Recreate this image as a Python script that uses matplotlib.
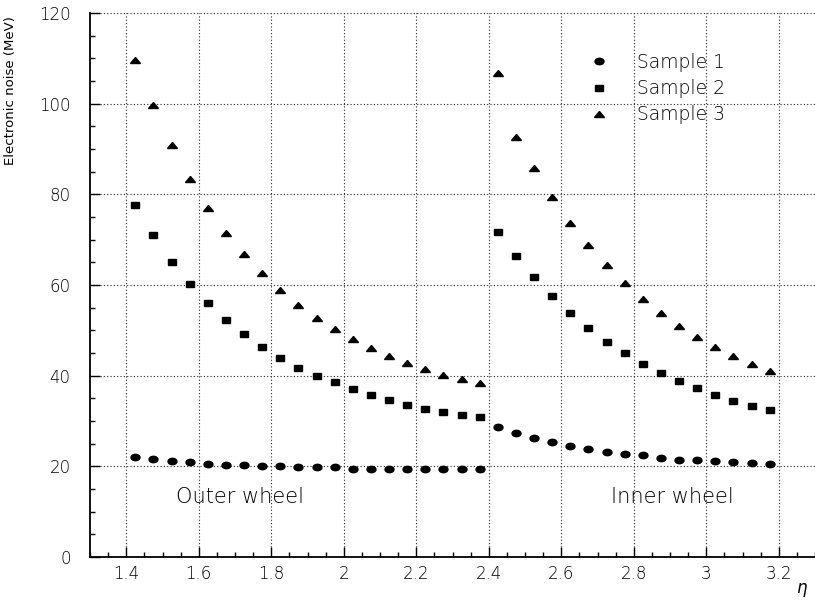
import matplotlib
matplotlib.use('Agg')
import matplotlib.pyplot as plt
from matplotlib.markers import MarkerStyle
from matplotlib.transforms import Affine2D
from matplotlib.ticker import MultipleLocator, FuncFormatter

# eta bin centres
eta_outer = [1.425, 1.475, 1.525, 1.575, 1.625, 1.675, 1.725, 1.775, 1.825, 1.875,
             1.925, 1.975, 2.025, 2.075, 2.125, 2.175, 2.225, 2.275, 2.325, 2.375]
eta_inner = [2.425, 2.475, 2.525, 2.575, 2.625, 2.675, 2.725, 2.775,
             2.825, 2.875, 2.925, 2.975, 3.025, 3.075, 3.125, 3.175]

# noise (MeV), outer wheel
s1_outer = [22.0, 21.7, 21.2, 20.9, 20.6, 20.3, 20.3, 20.0, 20.0, 19.8,
            19.8, 19.8, 19.5, 19.5, 19.5, 19.5, 19.5, 19.5, 19.5, 19.5]
s2_outer = [77.7, 71.0, 65.1, 60.2, 56.0, 52.3, 49.2, 46.4, 44.0, 41.8,
            40.0, 38.5, 37.0, 35.7, 34.6, 33.5, 32.7, 32.0, 31.3, 30.9]
s3_outer = [109.6, 99.6, 90.9, 83.4, 76.9, 71.5, 66.8, 62.6, 58.8, 55.6,
            52.7, 50.2, 48.1, 46.0, 44.3, 42.9, 41.5, 40.2, 39.3, 38.3]

# noise (MeV), inner wheel
s1_inner = [28.6, 27.3, 26.3, 25.3, 24.4, 23.8, 23.2, 22.7,
            22.4, 21.9, 21.5, 21.3, 21.2, 20.9, 20.7, 20.6]
s2_inner = [71.7, 66.5, 61.7, 57.5, 53.8, 50.5, 47.5, 44.9,
            42.6, 40.6, 38.8, 37.2, 35.7, 34.5, 33.4, 32.4]
s3_inner = [106.8, 92.7, 85.7, 79.4, 73.7, 68.9, 64.4, 60.5,
            56.9, 53.8, 51.0, 48.6, 46.4, 44.4, 42.6, 41.1]

labels = ['Sample 1', 'Sample 2', 'Sample 3']

plt.rcParams['font.family'] = ['DejaVu Sans']
plt.rcParams['font.weight'] = 'light'

fig = plt.figure(figsize=(8.15, 6.05), dpi=100)
ax = fig.add_axes([90 / 815, 48 / 605, 725 / 815, 544 / 605])

# markers a bit wider than tall, like the original
stretch = Affine2D().scale(1.4, 1.0)
marks = [MarkerStyle('o', transform=stretch),
         MarkerStyle('s', transform=stretch),
         MarkerStyle('^', transform=stretch)]
sizes = [4.6, 4.6, 5.0]

series = [(s1_outer, s1_inner), (s2_outer, s2_inner), (s3_outer, s3_inner)]
handles = []
for (yo, yi), m, ms, lab in zip(series, marks, sizes, labels):
    h, = ax.plot(eta_outer, yo, linestyle='none', marker=m, ms=ms,
                 color='black', label=lab)
    ax.plot(eta_inner, yi, linestyle='none', marker=m, ms=ms, color='black')
    handles.append(h)

ax.set_xlim(1.3, 3.3)
ax.set_ylim(0, 120)
ax.xaxis.set_major_locator(MultipleLocator(0.2))
ax.xaxis.set_minor_locator(MultipleLocator(0.05))
ax.yaxis.set_major_locator(MultipleLocator(20))
ax.yaxis.set_minor_locator(MultipleLocator(5))
ax.xaxis.set_major_formatter(FuncFormatter(lambda v, p: f'{v:g}'))

ax.grid(True, which='major', color='#222222', linestyle=(0, (1, 2)), linewidth=0.8)
ax.set_axisbelow(True)
ax.spines['top'].set_visible(False)
ax.spines['right'].set_visible(False)
ax.spines['left'].set_linewidth(1.3)
ax.spines['bottom'].set_linewidth(1.3)
ax.tick_params(which='major', direction='in', length=7, width=1.0, labelsize=12, pad=6)
ax.tick_params(which='minor', direction='in', length=3.5, width=1.0)
ax.tick_params(axis='y', pad=14)

ax.set_ylabel('Electronic noise (MeV)', fontsize=9.5, fontweight='normal', loc='top')
ax.yaxis.set_label_coords(-0.1, 0.995)
ax.set_xlabel(r'$\eta$', fontsize=12, loc='right')
ax.xaxis.set_label_coords(0.99, -0.045)

ax.text(1.714, 13.2, 'Outer wheel', fontsize=15, ha='center', va='center')
ax.text(2.907, 13.2, 'Inner wheel', fontsize=15, ha='center', va='center')

ax.legend(handles=handles, loc='upper left', frameon=False, fontsize=13.5,
          bbox_to_anchor=(590 / 815, (605 - 53) / 605), bbox_transform=fig.transFigure,
          borderpad=0, borderaxespad=0, handlelength=1.0, handletextpad=1.5,
          labelspacing=0.38)

plt.savefig('out.png')
